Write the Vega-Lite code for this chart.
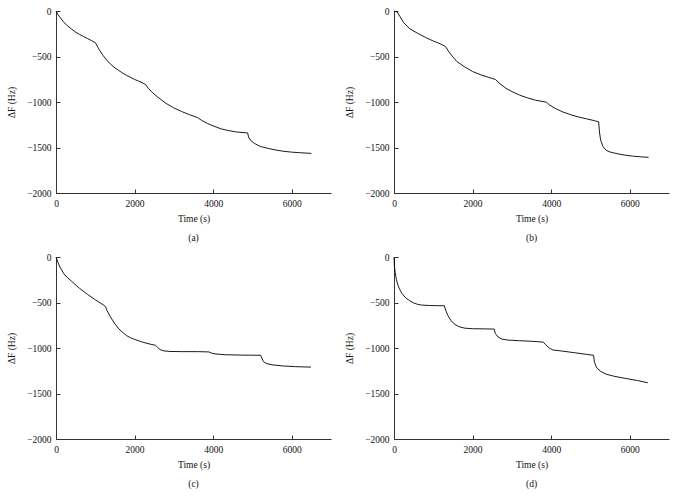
{
  "$schema": "https://vega.github.io/schema/vega-lite/v6.json",
  "padding": {"left": 6, "top": 6, "right": 5, "bottom": 5},
  "columns": 2,
  "spacing": {"column": 13, "row": 9},
  "datasets": {
    "a": [
      {"time": 0, "dF": 0}, {"time": 50, "dF": -40}, {"time": 100, "dF": -68}, {"time": 200, "dF": -125},
      {"time": 300, "dF": -165}, {"time": 400, "dF": -200}, {"time": 500, "dF": -232}, {"time": 600, "dF": -258},
      {"time": 700, "dF": -280}, {"time": 800, "dF": -302}, {"time": 900, "dF": -325}, {"time": 1000, "dF": -348},
      {"time": 1050, "dF": -385}, {"time": 1100, "dF": -425}, {"time": 1200, "dF": -490}, {"time": 1300, "dF": -545},
      {"time": 1400, "dF": -588}, {"time": 1500, "dF": -625}, {"time": 1600, "dF": -655}, {"time": 1700, "dF": -683},
      {"time": 1800, "dF": -708}, {"time": 1900, "dF": -730}, {"time": 2000, "dF": -752}, {"time": 2100, "dF": -770},
      {"time": 2200, "dF": -790}, {"time": 2280, "dF": -808}, {"time": 2350, "dF": -850}, {"time": 2450, "dF": -895},
      {"time": 2600, "dF": -950}, {"time": 2800, "dF": -1015}, {"time": 3000, "dF": -1065}, {"time": 3200, "dF": -1105},
      {"time": 3400, "dF": -1140}, {"time": 3600, "dF": -1170}, {"time": 3700, "dF": -1200}, {"time": 3850, "dF": -1235},
      {"time": 4000, "dF": -1262}, {"time": 4200, "dF": -1295}, {"time": 4400, "dF": -1315}, {"time": 4600, "dF": -1330},
      {"time": 4880, "dF": -1340}, {"time": 4900, "dF": -1385}, {"time": 4950, "dF": -1420}, {"time": 5050, "dF": -1455},
      {"time": 5200, "dF": -1488}, {"time": 5400, "dF": -1510}, {"time": 5600, "dF": -1528}, {"time": 5800, "dF": -1542},
      {"time": 6000, "dF": -1551}, {"time": 6200, "dF": -1557}, {"time": 6500, "dF": -1565}
    ],
    "b": [
      {"time": 0, "dF": 0}, {"time": 80, "dF": -10}, {"time": 150, "dF": -60}, {"time": 250, "dF": -130},
      {"time": 400, "dF": -195}, {"time": 600, "dF": -245}, {"time": 800, "dF": -290}, {"time": 1000, "dF": -330},
      {"time": 1200, "dF": -365}, {"time": 1310, "dF": -390}, {"time": 1400, "dF": -450}, {"time": 1500, "dF": -505},
      {"time": 1600, "dF": -555}, {"time": 1800, "dF": -615}, {"time": 2000, "dF": -665}, {"time": 2200, "dF": -700},
      {"time": 2400, "dF": -728}, {"time": 2580, "dF": -752}, {"time": 2700, "dF": -800}, {"time": 2850, "dF": -850},
      {"time": 3000, "dF": -885}, {"time": 3200, "dF": -925}, {"time": 3400, "dF": -955}, {"time": 3600, "dF": -980},
      {"time": 3880, "dF": -1002}, {"time": 3950, "dF": -1030}, {"time": 4100, "dF": -1070}, {"time": 4300, "dF": -1110},
      {"time": 4500, "dF": -1140}, {"time": 4700, "dF": -1165}, {"time": 4900, "dF": -1185}, {"time": 5100, "dF": -1205},
      {"time": 5210, "dF": -1218}, {"time": 5230, "dF": -1330}, {"time": 5260, "dF": -1420}, {"time": 5320, "dF": -1490},
      {"time": 5400, "dF": -1530}, {"time": 5500, "dF": -1550}, {"time": 5700, "dF": -1570}, {"time": 5900, "dF": -1585},
      {"time": 6100, "dF": -1596}, {"time": 6300, "dF": -1603}, {"time": 6480, "dF": -1608}
    ],
    "c": [
      {"time": 0, "dF": 0}, {"time": 50, "dF": -60}, {"time": 100, "dF": -110}, {"time": 200, "dF": -185},
      {"time": 300, "dF": -230}, {"time": 400, "dF": -268}, {"time": 600, "dF": -345}, {"time": 800, "dF": -410},
      {"time": 1000, "dF": -470}, {"time": 1200, "dF": -525}, {"time": 1260, "dF": -545}, {"time": 1300, "dF": -590},
      {"time": 1400, "dF": -668}, {"time": 1500, "dF": -735}, {"time": 1600, "dF": -790}, {"time": 1700, "dF": -830},
      {"time": 1800, "dF": -865}, {"time": 1900, "dF": -888}, {"time": 2000, "dF": -905}, {"time": 2200, "dF": -935},
      {"time": 2400, "dF": -958}, {"time": 2530, "dF": -970}, {"time": 2580, "dF": -990}, {"time": 2650, "dF": -1018},
      {"time": 2750, "dF": -1032}, {"time": 2900, "dF": -1038}, {"time": 3200, "dF": -1040}, {"time": 3600, "dF": -1040},
      {"time": 3890, "dF": -1043}, {"time": 3950, "dF": -1055}, {"time": 4050, "dF": -1065}, {"time": 4300, "dF": -1074},
      {"time": 4700, "dF": -1078}, {"time": 5210, "dF": -1080}, {"time": 5240, "dF": -1110}, {"time": 5280, "dF": -1150},
      {"time": 5350, "dF": -1170}, {"time": 5500, "dF": -1185}, {"time": 5800, "dF": -1198}, {"time": 6100, "dF": -1205},
      {"time": 6490, "dF": -1210}
    ],
    "d": [
      {"time": 0, "dF": 0}, {"time": 10, "dF": -100}, {"time": 30, "dF": -170}, {"time": 60, "dF": -245},
      {"time": 100, "dF": -310}, {"time": 150, "dF": -360}, {"time": 200, "dF": -400}, {"time": 300, "dF": -450},
      {"time": 400, "dF": -480}, {"time": 500, "dF": -505}, {"time": 600, "dF": -520}, {"time": 700, "dF": -528},
      {"time": 900, "dF": -533}, {"time": 1100, "dF": -535}, {"time": 1280, "dF": -536}, {"time": 1320, "dF": -590},
      {"time": 1370, "dF": -640}, {"time": 1450, "dF": -700}, {"time": 1550, "dF": -740}, {"time": 1650, "dF": -765},
      {"time": 1800, "dF": -782}, {"time": 2000, "dF": -788}, {"time": 2300, "dF": -790}, {"time": 2550, "dF": -792},
      {"time": 2580, "dF": -840}, {"time": 2650, "dF": -880}, {"time": 2750, "dF": -902}, {"time": 2900, "dF": -913},
      {"time": 3200, "dF": -920}, {"time": 3500, "dF": -926}, {"time": 3800, "dF": -935}, {"time": 3850, "dF": -960},
      {"time": 3950, "dF": -1000}, {"time": 4050, "dF": -1022}, {"time": 4300, "dF": -1035}, {"time": 4600, "dF": -1052},
      {"time": 4900, "dF": -1070}, {"time": 5080, "dF": -1080}, {"time": 5100, "dF": -1150}, {"time": 5150, "dF": -1210},
      {"time": 5250, "dF": -1255}, {"time": 5400, "dF": -1288}, {"time": 5600, "dF": -1310}, {"time": 5900, "dF": -1335},
      {"time": 6200, "dF": -1358}, {"time": 6460, "dF": -1382}
    ]
  },
  "concat": [
    {
      "data": {"name": "a"}, "width": 275, "height": 182,
      "title": {"text": "(a)", "orient": "bottom"},
      "mark": {"type": "line", "color": "black", "strokeWidth": 0.9},
      "encoding": {
        "x": {"field": "time", "type": "quantitative", "scale": {"domain": [0, 7000], "nice": false}, "axis": {"values": [0, 2000, 4000, 6000], "format": "d", "title": "Time (s)"}},
        "y": {"field": "dF", "type": "quantitative", "scale": {"domain": [-2000, 0], "nice": false}, "axis": {"values": [-2000, -1500, -1000, -500, 0], "format": "d", "title": "ΔF (Hz)"}}
      }
    },
    {
      "data": {"name": "b"}, "width": 275, "height": 182,
      "title": {"text": "(b)", "orient": "bottom"},
      "mark": {"type": "line", "color": "black", "strokeWidth": 0.9},
      "encoding": {
        "x": {"field": "time", "type": "quantitative", "scale": {"domain": [0, 7000], "nice": false}, "axis": {"values": [0, 2000, 4000, 6000], "format": "d", "title": "Time (s)"}},
        "y": {"field": "dF", "type": "quantitative", "scale": {"domain": [-2000, 0], "nice": false}, "axis": {"values": [-2000, -1500, -1000, -500, 0], "format": "d", "title": "ΔF (Hz)"}}
      }
    },
    {
      "data": {"name": "c"}, "width": 275, "height": 182,
      "title": {"text": "(c)", "orient": "bottom"},
      "mark": {"type": "line", "color": "black", "strokeWidth": 0.9},
      "encoding": {
        "x": {"field": "time", "type": "quantitative", "scale": {"domain": [0, 7000], "nice": false}, "axis": {"values": [0, 2000, 4000, 6000], "format": "d", "title": "Time (s)"}},
        "y": {"field": "dF", "type": "quantitative", "scale": {"domain": [-2000, 0], "nice": false}, "axis": {"values": [-2000, -1500, -1000, -500, 0], "format": "d", "title": "ΔF (Hz)"}}
      }
    },
    {
      "data": {"name": "d"}, "width": 275, "height": 182,
      "title": {"text": "(d)", "orient": "bottom"},
      "mark": {"type": "line", "color": "black", "strokeWidth": 0.9},
      "encoding": {
        "x": {"field": "time", "type": "quantitative", "scale": {"domain": [0, 7000], "nice": false}, "axis": {"values": [0, 2000, 4000, 6000], "format": "d", "title": "Time (s)"}},
        "y": {"field": "dF", "type": "quantitative", "scale": {"domain": [-2000, 0], "nice": false}, "axis": {"values": [-2000, -1500, -1000, -500, 0], "format": "d", "title": "ΔF (Hz)"}}
      }
    }
  ],
  "config": {
    "view": {"stroke": null},
    "font": "Liberation Serif",
    "axis": {
      "grid": false, "domainColor": "#333", "tickColor": "#333", "domainWidth": 1, "tickWidth": 1,
      "tickSize": -4, "labelPadding": 9, "labelFlush": false,
      "labelFont": "Liberation Serif", "labelFontSize": 9.5, "labelColor": "#111",
      "titleFont": "Liberation Serif", "titleFontSize": 9.5, "titleFontWeight": 400, "titleColor": "#111"
    },
    "axisX": {"titlePadding": 6},
    "axisY": {"titlePadding": 10},
    "title": {"font": "Liberation Serif", "fontSize": 9.5, "fontWeight": 400, "color": "#111", "offset": 10}
  }
}
